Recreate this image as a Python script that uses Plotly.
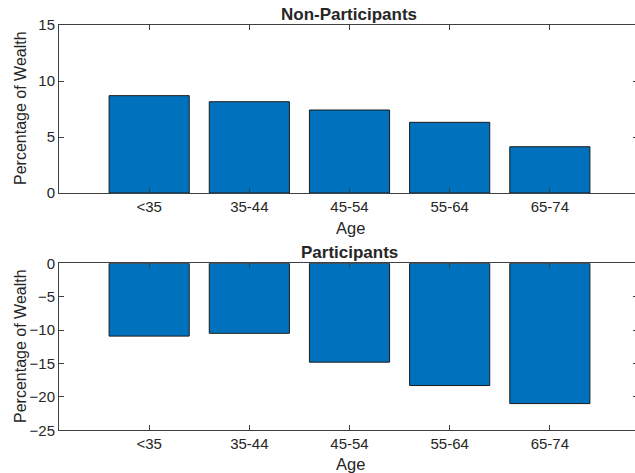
import plotly.graph_objects as go

age_groups = ["<35", "35-44", "45-54", "55-64", "65-74"]
non_participants = [8.69, 8.15, 7.41, 6.31, 4.13]
participants = [-10.9, -10.48, -14.8, -18.3, -21.0]

positions = [1, 2, 3, 4, 5]

W, H = 638, 473
FONT = "Liberation Sans, Arial, Helvetica, sans-serif"
TXT = "#262626"
AX = "#404040"
BAR = "#0072BD"

fig = go.Figure()
fig.add_trace(go.Bar(x=positions, y=non_participants, width=0.8,
                     marker=dict(color=BAR, line=dict(color="#1a1a1a", width=1)),
                     xaxis="x", yaxis="y", showlegend=False))
fig.add_trace(go.Bar(x=positions, y=participants, width=0.8,
                     marker=dict(color=BAR, line=dict(color="#1a1a1a", width=1)),
                     xaxis="x2", yaxis="y2", showlegend=False))

L = 59
R = 0
top_dom = [1 - 193 / H, 1 - 25 / H]
bot_dom = [1 - 430.3 / H, 1 - 263.3 / H]

xcommon = dict(range=[0.1, 5.88], tickvals=positions, ticktext=age_groups,
               ticks="inside", ticklen=5, tickcolor=AX, showline=True, linecolor=AX,
               linewidth=1, mirror="ticks", showgrid=False, zeroline=False,
               tickfont=dict(family=FONT, size=15, color=TXT), fixedrange=True)
ycommon = dict(ticks="inside", ticklen=5, tickcolor=AX, showline=True, linecolor=AX,
               linewidth=1, mirror="ticks", showgrid=False, zeroline=False,
               tickfont=dict(family=FONT, size=15, color=TXT), fixedrange=True)

fig.update_layout(
    width=W, height=H,
    margin=dict(l=L, r=R, t=0, b=0, autoexpand=False),
    paper_bgcolor="white", plot_bgcolor="white",
    xaxis=dict(domain=[0, 1], anchor="y", **xcommon),
    yaxis=dict(domain=top_dom, anchor="x", range=[0, 15], tickvals=[0, 5, 10, 15], **ycommon),
    xaxis2=dict(domain=[0, 1], anchor="y2", **xcommon),
    yaxis2=dict(domain=bot_dom, anchor="x2", range=[-25, 0],
                tickvals=[-25, -20, -15, -10, -5, 0], **ycommon),
)

def ypaper(py):
    return 1 - py / H

def xpaper(px):
    return (px - L) / (W - L - R)

annots = [
    dict(text="<b>Non-Participants</b>", x=xpaper(349), y=ypaper(14.5), size=17),
    dict(text="<b>Participants</b>", x=xpaper(349), y=ypaper(252), size=17),
    dict(text="Age", x=xpaper(350), y=ypaper(228), size=16.5),
    dict(text="Age", x=xpaper(350), y=ypaper(464), size=16.5),
]
for a in annots:
    fig.add_annotation(text=a["text"], x=a["x"], y=a["y"], xref="paper", yref="paper",
                       showarrow=False, xanchor="center", yanchor="middle",
                       font=dict(family=FONT, size=a["size"], color=TXT))
for yc in [108, 346]:
    fig.add_annotation(text="Percentage of Wealth", x=xpaper(20), y=ypaper(yc),
                       xref="paper", yref="paper", showarrow=False, textangle=-90,
                       xanchor="center", yanchor="middle",
                       font=dict(family=FONT, size=16, color=TXT))

fig.write_html("out.html", config={"displayModeBar": False},
               post_script="document.body.style.margin='0';document.body.style.overflow='hidden';")
